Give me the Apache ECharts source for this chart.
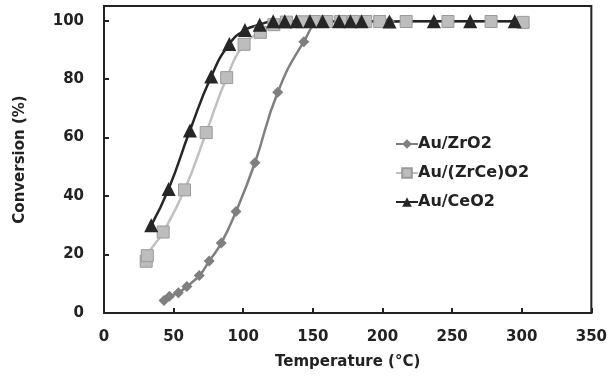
<!DOCTYPE html>
<html>
<head>
<meta charset="utf-8">
<script src="https://cdn.jsdelivr.net/npm/echarts@6/dist/echarts.min.js"></script>
<style>html,body{margin:0;padding:0;background:#fff}#c{width:610px;height:378px}</style>
</head>
<body>
<div id="c"></div>
<script>
// Data: [temperature (°C), conversion (%)]
var seriesNames = ['Au/ZrO2', 'Au/(ZrCe)O2', 'Au/CeO2'];
var zrO2 = [[43.1,4.3],[47,5.7],[53.4,6.9],[59.5,9.1],[68.4,12.8],[75.6,17.8],[84.2,23.9],[94.8,34.7],[108.4,51.4],[124.8,75.5],[143.5,92.8],[156,99.6],[170,99.8],[185,99.8],[205,99.8]];
var zrCeO2 = [[30.3,17.7],[31.1,19.6],[42.5,27.7],[57.8,42.1],[73.4,61.7],[88.1,80.5],[100.6,91.9],[112.3,96.0],[122,98.6],[131,99.5],[142,99.6],[151,99.7],[160,99.7],[170,99.7],[179,99.7],[188,99.7],[198,99.7],[217,99.7],[247,99.7],[278,99.7],[301,99.4]];
var ceO2 = [[33.9,30.0],[46.4,42.4],[61.7,62.4],[77,80.9],[90,92.0],[101.2,96.8],[111.8,98.6],[121.5,99.8],[129.8,99.8],[138.2,99.8],[147.9,99.8],[157,99.8],[168.8,99.8],[177,99.8],[185,99.8],[205,99.7],[236.9,99.8],[263,99.8],[295,99.8]];
var xTicks = [0, 50, 100, 150, 200, 250, 300, 350];
var yTicks = [0, 20, 40, 60, 80, 100];

var FONT = 'DejaVu Sans';
var chart = echarts.init(document.getElementById('c'), null, {renderer: 'canvas'});
chart.setOption({
  animation: false,
  backgroundColor: '#fff',
  grid: {left: 104, right: 16, top: 6, bottom: 65, show: true, borderColor: '#222', borderWidth: 2},
  legend: {
    orient: 'vertical', left: 390, top: 131, itemGap: 13, itemWidth: 22, itemHeight: 12,
    data: seriesNames,
    textStyle: {fontFamily: FONT, fontWeight: 'bold', fontSize: 16, color: '#222', padding: [0,0,0,-5]}
  },
  xAxis: {
    type: 'value', min: xTicks[0], max: xTicks[xTicks.length-1], interval: 50,
    name: 'Temperature (°C)', nameLocation: 'middle', nameGap: 42,
    nameTextStyle: {fontFamily: FONT, fontWeight: 'bold', fontSize: 15, color: '#222'},
    axisLine: {lineStyle: {color: '#222', width: 2}},
    axisTick: {inside: true, length: 5, lineStyle: {color: '#222', width: 2}},
    axisLabel: {fontFamily: FONT, fontWeight: 'bold', fontSize: 15, color: '#222', margin: 17},
    splitLine: {show: false}
  },
  yAxis: {
    type: 'value', min: yTicks[0], max: 105, interval: 20,
    name: 'Conversion (%)', nameLocation: 'middle', nameGap: 76,
    nameTextStyle: {fontFamily: FONT, fontWeight: 'bold', fontSize: 15, color: '#222'},
    axisLine: {lineStyle: {color: '#222', width: 2}},
    axisTick: {inside: true, length: 5, lineStyle: {color: '#222', width: 2}},
    axisLabel: {fontFamily: FONT, fontWeight: 'bold', fontSize: 15, color: '#222', margin: 20, showMaxLabel: false,
      formatter: function(v){ return v > 100 ? '' : String(v); }},
    splitLine: {show: false}
  },
  series: [
    {name: seriesNames[0], type: 'line', data: zrO2, smooth: 0.5,
     symbol: 'diamond', symbolSize: 11,
     lineStyle: {color: '#7f7f7f', width: 2.5}, itemStyle: {color: '#7f7f7f'}},
    {name: seriesNames[1], type: 'line', data: zrCeO2, smooth: 0.5,
     symbol: 'rect', symbolSize: 12,
     lineStyle: {color: '#c0c0c0', width: 2.5}, itemStyle: {color: '#bdbdbd', borderColor: '#9a9a9a', borderWidth: 1}},
    {name: seriesNames[2], type: 'line', data: ceO2, smooth: 0.5,
     symbol: 'triangle', symbolSize: 14,
     lineStyle: {color: '#262626', width: 2.5}, itemStyle: {color: '#262626'}}
  ]
});
</script>
</body>
</html>
